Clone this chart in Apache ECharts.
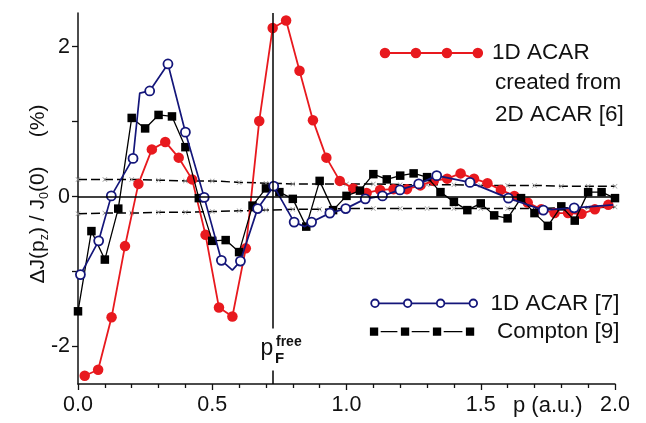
<!DOCTYPE html>
<html><head><meta charset="utf-8">
<script src="https://cdn.jsdelivr.net/npm/echarts@6/dist/echarts.min.js"></script>
<style>html,body{margin:0;padding:0;background:#fff}#c{width:646px;height:423px}</style>
</head><body><div id="c"></div>
<script>
// ---- data ----
const redX = [0.025,0.075,0.125,0.175,0.225,0.275,0.325,0.375,0.425,0.475,0.525,0.575,0.625,0.675,0.725,0.775,0.825,0.875,0.925,0.975,1.025,1.075,1.125,1.175,1.225,1.275,1.325,1.375,1.425,1.475,1.525,1.575,1.625,1.675,1.725,1.775,1.825,1.875,1.925,1.975];
const redY = [-2.39,-2.31,-1.61,-0.66,0.17,0.63,0.73,0.52,0.23,-0.51,-1.48,-1.60,-0.69,1.01,2.25,2.35,1.68,1.02,0.52,0.21,0.11,0.05,0.09,0.10,0.10,0.15,0.21,0.24,0.31,0.24,0.18,0.09,0.01,-0.08,-0.17,-0.22,-0.22,-0.23,-0.17,-0.11];

const blueX = [0.009,0.077,0.124,0.205,0.23,0.267,0.335,0.40,0.47,0.534,0.575,0.605,0.669,0.729,0.805,0.845,0.87,0.938,0.997,1.07,1.134,1.199,1.269,1.336,1.46,1.603,1.733,1.848,1.993];
const blueY = [-1.04,-0.59,0.01,0.51,1.38,1.41,1.77,0.86,-0.01,-0.85,-0.98,-0.86,-0.16,0.14,-0.34,-0.40,-0.34,-0.22,-0.16,-0.03,0.01,0.09,0.17,0.28,0.19,-0.02,-0.18,-0.15,-0.11];
const blueMarked = [1,1,1,1,0,1,1,1,1,1,0,1,1,1,1,0,1,1,1,1,1,1,1,1,1,1,1,1,0];

const blackX = [0,0.05,0.10,0.15,0.20,0.25,0.30,0.35,0.40,0.45,0.50,0.55,0.60,0.65,0.70,0.75,0.80,0.85,0.90,0.95,1.00,1.05,1.10,1.15,1.20,1.25,1.30,1.35,1.40,1.45,1.50,1.55,1.60,1.65,1.70,1.75,1.80,1.85,1.90,1.95,2.00];
const blackY = [-1.53,-0.46,-0.84,-0.16,1.05,0.91,1.09,1.07,0.66,-0.02,-0.59,-0.58,-0.74,-0.12,0.11,0.06,-0.03,-0.40,0.21,-0.18,0.01,0.08,0.30,0.23,0.28,0.31,0.26,0.06,-0.07,-0.18,-0.09,-0.25,-0.29,-0.02,-0.22,-0.39,-0.13,-0.32,0.06,0.06,-0.02];

const bandX = [0,0.1,0.2,0.3,0.4,0.5,0.6,0.7,0.8,0.9,1.0,1.1,1.2,1.3,1.4,1.5,1.6,1.7,1.8,1.9,2.0];
const bandUp = [0.23,0.23,0.23,0.22,0.21,0.21,0.19,0.18,0.17,0.17,0.17,0.17,0.16,0.16,0.16,0.15,0.15,0.15,0.14,0.14,0.14];
const bandLo = [-0.23,-0.22,-0.22,-0.21,-0.21,-0.20,-0.19,-0.18,-0.17,-0.17,-0.16,-0.16,-0.16,-0.16,-0.16,-0.16,-0.16,-0.16,-0.15,-0.15,-0.14];

const pFermi = 0.725;
const xTickLabels = [0, 0.5, 1.0, 1.5, 2.0];
const yTickLabels = [-2, 0, 2];
const yTicks = [-2, -1, 0, 1, 2];

const nameRed = '1D ACAR created from 2D ACAR [6]';
const nameBlue = '1D ACAR [7]';
const nameBlack = 'Compton [9]';

// ---- styles ----
const RED = '#e8191e', NAVY = '#14167a', BLK = '#000', TXT = '#111';
const FONT = 'Liberation Sans, Arial, sans-serif';
const zip = (a, b) => a.map((v, i) => [v, b[i]]);

function circ(cx, cy, r, cw) {
  const s = cw ? 1 : 0;
  return `M${cx - r},${cy}A${r},${r},0,1,${s},${cx + r},${cy}A${r},${r},0,1,${s},${cx - r},${cy}Z`;
}
function rectP(x1, y1, x2, y2) { return `M${x1},${y1}L${x2},${y1}L${x2},${y2}L${x1},${y2}Z`; }

// legend icons
const redIcon = 'path://' + rectP(5.3, 4.4, 98.7, 6.2) + [5.3, 36.4, 67.6, 98.7].map(c => circ(c, 5.3, 5.3, true)).join('');
const bc = [4.7, 37.4, 70.3, 103.0];
let blueP = '';
bc.forEach(c => { blueP += circ(c, 4.7, 4.7, true) + circ(c, 4.7, 2.9, false); });
for (let i = 0; i < 3; i++) blueP += rectP(bc[i] + 4.2, 3.85, bc[i + 1] - 4.2, 5.55);
const blueIcon = 'path://' + blueP;
const sq = [0, 31, 63, 96];
let blkP = '';
sq.forEach(l => { blkP += rectP(l, 0, l + 8.3, 8.3); });
for (let i = 0; i < 3; i++) blkP += rectP(sq[i] + 8.3 + 2.5, 3.5, sq[i + 1] - 3.5, 4.8);
const blkIcon = 'path://' + blkP;

const xMark = 'path://M0,1L1,0L5,4L9,0L10,1L6,5L10,9L9,10L5,6L1,10L0,9L4,5Z';

const chart = echarts.init(document.getElementById('c'), null, {renderer: 'canvas'});
const legendText = {fontSize: 22.5, color: TXT, fontFamily: FONT, lineHeight: 26};

chart.setOption({
  animation: false,
  backgroundColor: '#fff',
  grid: {left: 78, right: 31, top: 13, bottom: 39, containLabel: false},
  xAxis: {
    type: 'value', min: 0, max: 2, interval: 0.5,
    axisLine: {onZero: false, lineStyle: {color: TXT, width: 1.5}},
    axisTick: {length: 6, lineStyle: {color: TXT, width: 1.3}},
    minorTick: {show: true, splitNumber: 5, length: 4, lineStyle: {color: TXT, width: 1.3}},
    splitLine: {show: false}, minorSplitLine: {show: false},
    axisLabel: {customValues: xTickLabels, formatter: v => Number(v).toFixed(1), fontSize: 21.5, color: TXT, fontFamily: FONT, margin: 10.5}
  },
  yAxis: {
    type: 'value', min: -2.5, max: 2.45,
    axisLine: {show: true, onZero: false, lineStyle: {color: TXT, width: 1.5}},
    axisTick: {show: true, customValues: yTicks, length: 6, lineStyle: {color: TXT, width: 1.3}},
    splitLine: {show: false},
    axisLabel: {customValues: yTickLabels, formatter: v => String(v), fontSize: 21.5, color: TXT, fontFamily: FONT, margin: 8}
  },
  legend: [
    {data: [{name: nameRed, icon: redIcon, itemStyle: {color: RED, borderWidth: 0}}],
     formatter: () => '1D ACAR', left: 379.7, top: 40, padding: 0, itemWidth: 103.4, itemHeight: 10.6,
     selectedMode: false, textStyle: Object.assign({padding: [0, 0, 0, 4]}, legendText)},
    {data: [{name: nameBlue, icon: blueIcon, itemStyle: {color: NAVY, borderWidth: 0}}],
     left: 370.3, top: 290.3, padding: 0, itemWidth: 107.7, itemHeight: 9.4,
     selectedMode: false, textStyle: Object.assign({padding: [0, 0, 0, 7.6]}, legendText)},
    {data: [{name: nameBlack, icon: blkIcon, itemStyle: {color: BLK, borderWidth: 0}}],
     left: 369.9, top: 318.7, padding: 0, itemWidth: 104.3, itemHeight: 8.3,
     selectedMode: false, textStyle: Object.assign({padding: [0, 0, 0, 17.8]}, legendText)}
  ],
  graphic: [
    {type: 'text', x: 495, y: 83, silent: true, style: {text: 'created from', fontSize: 22.5, fontFamily: FONT, fill: TXT, verticalAlign: 'middle'}},
    {type: 'text', x: 495, y: 115, silent: true, style: {text: '2D ACAR [6]', fontSize: 22.5, fontFamily: FONT, fill: TXT, verticalAlign: 'middle'}},
    {type: 'text', x: 260.5, y: 349, silent: true, style: {text: 'p', fontSize: 23, fontFamily: FONT, fill: TXT, verticalAlign: 'middle'}},
    {type: 'text', x: 275, y: 359, silent: true, style: {text: 'F', fontSize: 15, fontWeight: 'bold', fontFamily: FONT, fill: TXT, verticalAlign: 'middle'}},
    {type: 'text', x: 276, y: 342, silent: true, style: {text: 'free', fontSize: 14, fontWeight: 'bold', fontFamily: FONT, fill: TXT, verticalAlign: 'middle'}},
    {type: 'text', x: 513, y: 406, silent: true, style: {text: 'p (a.u.)', fontSize: 22, fontFamily: FONT, fill: TXT, verticalAlign: 'middle'}},
    {type: 'text', x: 38.5, y: 194, rotation: Math.PI / 2, silent: true,
     style: {text: '{m|ΔJ(p}{s|z}{m|) / J}{s|0}{m|(0)     (%)}', align: 'center', verticalAlign: 'middle', fill: TXT,
       rich: {m: {fontSize: 21, fontFamily: FONT, fill: TXT, lineHeight: 26, verticalAlign: 'middle'},
              s: {fontSize: 12.5, fontFamily: FONT, fill: TXT, lineHeight: 12, verticalAlign: 'bottom'}}}}
  ],
  series: [
    {name: 'band upper', type: 'line', data: zip(bandX, bandUp), symbol: xMark, symbolSize: 5,
     itemStyle: {color: '#9a9a9a'}, lineStyle: {color: BLK, width: 1.5, type: [9, 4]}, z: 1, silent: true,
     emphasis: {disabled: true},
     markLine: {silent: true, symbol: 'none', animation: false, label: {show: false},
       lineStyle: {color: BLK, width: 1.5, type: 'solid'}, emphasis: {disabled: true},
       data: [{yAxis: 0},
              [{coord: [pFermi, 2.45]}, {coord: [pFermi, -1.76]}],
              [{coord: [pFermi, -2.32]}, {coord: [pFermi, -2.5]}]]}},
    {name: 'band lower', type: 'line', data: zip(bandX, bandLo), symbol: xMark, symbolSize: 5,
     itemStyle: {color: '#9a9a9a'}, lineStyle: {color: BLK, width: 1.5, type: [9, 4]}, z: 1, silent: true,
     emphasis: {disabled: true}},
    {name: nameRed, type: 'line', data: zip(redX, redY), symbol: 'circle', symbolSize: 10.5,
     itemStyle: {color: RED}, lineStyle: {color: RED, width: 1.8}, z: 2, emphasis: {disabled: true}},
    {name: nameBlack, type: 'line', data: zip(blackX, blackY), symbol: 'rect', symbolSize: 8.5,
     itemStyle: {color: BLK}, lineStyle: {color: BLK, width: 1.3}, z: 3, emphasis: {disabled: true}},
    {name: nameBlue, type: 'line',
     data: blueX.map((x, i) => ({value: [x, blueY[i]], symbol: blueMarked[i] ? 'circle' : 'none'})),
     symbol: 'circle', symbolSize: 9, color: NAVY,
     itemStyle: {color: '#fff', borderColor: NAVY, borderWidth: 1.8}, lineStyle: {color: NAVY, width: 1.7}, z: 4,
     emphasis: {disabled: true}}
  ]
});
</script></body></html>
